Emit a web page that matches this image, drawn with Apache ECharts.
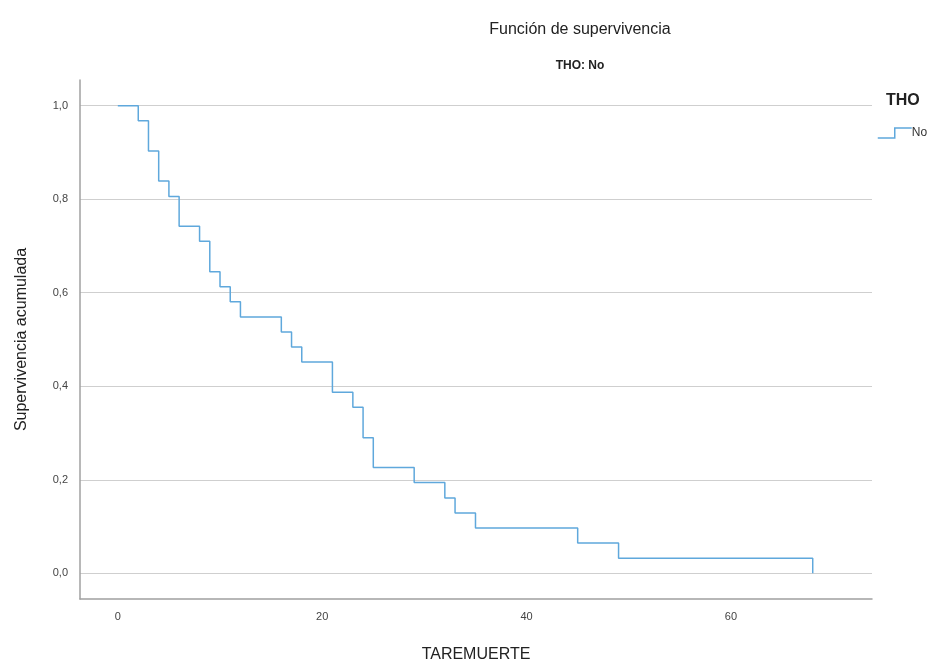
<!DOCTYPE html>
<html>
<head>
<meta charset="utf-8">
<script src="https://cdn.jsdelivr.net/npm/echarts@6/dist/echarts.min.js"></script>
<style>html,body{margin:0;padding:0;background:#fff;}#c{width:936px;height:668px;}</style>
</head>
<body>
<div id="c"></div>
<script>
// Kaplan-Meier step data (time, cumulative survival)
var times    = [0, 2, 3, 4, 5, 6, 8, 9, 10, 11, 12, 16, 17, 18, 21, 23, 24, 25, 29, 32, 33, 35, 45, 49, 68];
var survival = [1.0, 0.968, 0.903, 0.839, 0.806, 0.742, 0.710, 0.645, 0.613, 0.581, 0.548, 0.516, 0.484, 0.452, 0.387, 0.355, 0.290, 0.226, 0.194, 0.161, 0.129, 0.097, 0.065, 0.032, 0.0];
var xTicks = [0, 20, 40, 60];
var yTicks = [0, 0.2, 0.4, 0.6, 0.8, 1.0];
var seriesName = 'No';

var data = times.map(function (t, i) { return [t, survival[i]]; });
var font = 'Liberation Sans, Arial, sans-serif';

var chart = echarts.init(document.getElementById('c'), null, {renderer: 'canvas'});
chart.setOption({
  backgroundColor: '#ffffff',
  animation: false,
  title: [
    {text: 'Función de supervivencia', left: 575, top: 17, textAlign: 'center',
     textStyle: {fontFamily: font, fontSize: 16, fontWeight: 'normal', color: '#222'}},
    {text: 'THO: No', left: 575, top: 55, textAlign: 'center',
     textStyle: {fontFamily: font, fontSize: 12, fontWeight: 'bold', color: '#222'}},
    {text: 'THO', left: 881, top: 88,
     textStyle: {fontFamily: font, fontSize: 16, fontWeight: 'bold', color: '#222'}}
  ],
  legend: {
    left: 872, top: 122, orient: 'vertical',
    itemWidth: 34, itemHeight: 12, itemGap: 4,
    icon: 'path://M0,10 L17,10 L17,0 L34,0',
    data: [{name: seriesName, icon: 'path://M0,10 L17,10 L17,0 L34,0', itemStyle: {color: 'rgba(0,0,0,0)', borderColor: '#5fa8dc', borderWidth: 1.5}}],
    textStyle: {fontFamily: font, fontSize: 12, color: '#333', padding: [0, 0, 0, -5]}
  },
  grid: {left: 80, right: 64, top: 80, bottom: 67, containLabel: false},
  xAxis: {
    type: 'value', min: -3.7, max: 73.8,
    name: 'TAREMUERTE', nameLocation: 'middle', nameGap: 48,
    nameTextStyle: {fontFamily: font, fontSize: 16, color: '#222'},
    axisLine: {show: true, onZero: false, lineStyle: {color: '#a0a0a0', width: 1.5}},
    axisTick: {show: false, customValues: xTicks},
    axisLabel: {customValues: xTicks, fontFamily: font, fontSize: 11, color: '#444', margin: 12},
    splitLine: {show: false}
  },
  yAxis: {
    type: 'value', min: -0.055, max: 1.055,
    name: 'Supervivencia acumulada', nameLocation: 'middle', nameGap: 50,
    nameTextStyle: {fontFamily: font, fontSize: 16, color: '#222'},
    axisLine: {show: true, onZero: false, lineStyle: {color: '#a0a0a0', width: 1.5}},
    axisTick: {show: false, customValues: yTicks},
    axisLabel: {customValues: yTicks, fontFamily: font, fontSize: 11, color: '#444', margin: 12,
      formatter: function (v) { return v.toFixed(1).replace('.', ','); }},
    splitLine: {show: true, lineStyle: {color: '#cfcfcf', width: 1}}
  },
  series: [{
    name: seriesName, type: 'line', step: 'end', data: data,
    showSymbol: false, symbol: 'none',
    lineStyle: {color: '#5fa8dc', width: 1.5},
    itemStyle: {color: '#5fa8dc'}
  }]
});
</script>
</body>
</html>
